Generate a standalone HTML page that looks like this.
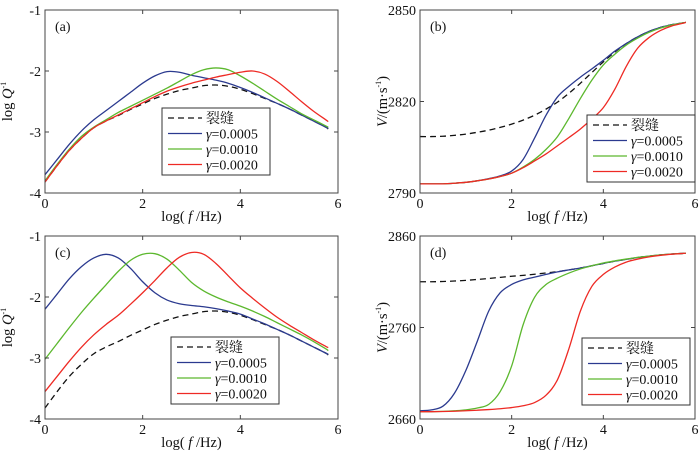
<!DOCTYPE html>
<html><head><meta charset="utf-8"><style>
body{margin:0;background:#fff}
svg text{font-family:"Liberation Serif","Noto Serif CJK SC",serif;fill:#111}
</style></head><body>
<svg id="c" width="700" height="452" viewBox="0 0 700 452"></svg>
<script>
const xs=[0,0.25,0.5,0.75,1,1.25,1.5,1.75,2,2.25,2.5,2.75,3,3.25,3.5,3.75,4,4.25,4.5,4.75,5,5.25,5.5,5.75,5.8];
const xTicks=[0,2,4,6];
const aCrack=[-3.82,-3.55,-3.3,-3.1,-2.93,-2.82,-2.73,-2.63,-2.54,-2.45,-2.38,-2.32,-2.28,-2.24,-2.23,-2.25,-2.3,-2.37,-2.45,-2.53,-2.62,-2.72,-2.82,-2.92,-2.95];
const aG1=[-3.7,-3.45,-3.2,-2.98,-2.8,-2.65,-2.5,-2.35,-2.2,-2.08,-2.01,-2.02,-2.07,-2.11,-2.15,-2.2,-2.27,-2.35,-2.44,-2.53,-2.62,-2.72,-2.82,-2.92,-2.94];
const aG2=[-3.8,-3.53,-3.28,-3.07,-2.92,-2.8,-2.68,-2.58,-2.48,-2.38,-2.28,-2.17,-2.06,-1.98,-1.95,-1.98,-2.08,-2.2,-2.33,-2.46,-2.58,-2.7,-2.8,-2.9,-2.92];
const aG3=[-3.82,-3.55,-3.3,-3.1,-2.93,-2.82,-2.72,-2.62,-2.52,-2.42,-2.33,-2.26,-2.2,-2.15,-2.1,-2.06,-2.02,-2.0,-2.05,-2.17,-2.33,-2.5,-2.66,-2.8,-2.83];
const bCrack=[2808.5,2808.5,2808.6,2808.9,2809.3,2809.9,2810.6,2811.5,2812.6,2813.9,2815.5,2817.5,2819.8,2822.7,2826,2829.5,2833,2836.2,2839,2841.2,2843,2844.3,2845.2,2845.8,2846];
const bG1=[2793,2793,2793,2793.2,2793.5,2794,2794.7,2795.6,2797.2,2801,2808,2815.5,2821.5,2825,2828,2830.7,2833.5,2836.5,2839,2841.2,2843,2844.3,2845.2,2845.8,2846];
const bG2=[2793,2793,2793,2793.2,2793.5,2794,2794.6,2795.4,2796.5,2798.5,2801,2804.3,2808.5,2814.5,2821,2827,2832,2835.5,2838.5,2840.8,2842.7,2844.1,2845.1,2845.8,2846];
const bG3=[2793,2793,2793,2793.2,2793.5,2794,2794.6,2795.4,2796.5,2798.3,2800.5,2802.8,2805.5,2808.2,2811,2814.3,2818,2824,2831.5,2837.5,2841,2843.3,2844.8,2845.7,2846];
const cCrack=[-3.82,-3.55,-3.3,-3.1,-2.93,-2.82,-2.73,-2.63,-2.54,-2.45,-2.38,-2.32,-2.28,-2.24,-2.23,-2.25,-2.3,-2.37,-2.45,-2.53,-2.62,-2.72,-2.82,-2.92,-2.95];
const cG1=[-2.2,-1.95,-1.7,-1.5,-1.36,-1.3,-1.36,-1.53,-1.75,-1.93,-2.05,-2.11,-2.14,-2.16,-2.19,-2.23,-2.28,-2.36,-2.44,-2.53,-2.62,-2.72,-2.82,-2.92,-2.94];
const cG2=[-3.02,-2.76,-2.5,-2.25,-2.02,-1.8,-1.58,-1.4,-1.3,-1.29,-1.38,-1.56,-1.76,-1.9,-2.0,-2.08,-2.15,-2.23,-2.32,-2.42,-2.52,-2.62,-2.73,-2.85,-2.88];
const cG3=[-3.55,-3.3,-3.05,-2.82,-2.62,-2.45,-2.3,-2.12,-1.93,-1.73,-1.52,-1.35,-1.27,-1.3,-1.45,-1.65,-1.85,-2.02,-2.18,-2.33,-2.46,-2.58,-2.7,-2.81,-2.83];
const dCrack=[2810,2810,2810.3,2810.8,2811.5,2812.5,2813.6,2814.8,2816,2817,2818.2,2819.6,2821,2823,2825,2827.5,2830,2832.5,2834.5,2836.5,2838,2839.3,2840.3,2841,2841.2];
const dG1=[2669,2670,2674,2688,2713,2745,2778,2798,2807,2812,2815,2818,2820.8,2823,2825,2827.5,2830,2832.5,2834.5,2836.5,2838,2839.3,2840.3,2841,2841.2];
const dG2=[2668,2668,2668.3,2669,2670,2672,2676,2690,2718,2763,2793,2807,2814,2819.5,2824,2827.5,2830.5,2832.8,2834.8,2836.6,2838,2839.3,2840.3,2841,2841.2];
const dG3=[2668,2668,2668.2,2668.5,2669,2669.6,2670.3,2671.2,2672.5,2674.5,2678,2686,2703,2737,2778,2805,2818,2826,2831.5,2834.8,2837.2,2838.9,2840.1,2841,2841.2];
const qTicks=[-1,-2,-3,-4];
const bTicks=[2790,2820,2850];
const dTicks=[2660,2760,2860];
const legendLabels=["裂缝","=0.0005","=0.0010","=0.0020"];
const colors=["#111","#2b3a8f","#5cb82e","#ee2a24"];

const svg=document.getElementById('c');
const NS='http://www.w3.org/2000/svg';
function mk(t,a,p){const e=document.createElementNS(NS,t);for(const k in a)e.setAttribute(k,a[k]);(p||svg).appendChild(e);return e;}
function path(pts){let d='M'+pts[0][0]+','+pts[0][1];for(let i=0;i<pts.length-1;i++){const p0=pts[Math.max(0,i-1)],p1=pts[i],p2=pts[i+1],p3=pts[Math.min(pts.length-1,i+2)];d+=' C'+(p1[0]+(p2[0]-p0[0])/6)+','+(p1[1]+(p2[1]-p0[1])/6)+' '+(p2[0]-(p3[0]-p1[0])/6)+','+(p2[1]-(p3[1]-p1[1])/6)+' '+p2[0]+','+p2[1];}return d;}
function panel(name,L,T,R,B,ymin,ymax,yt,series,lbl,isQ,leg){
  const g=mk('g',{});
  
  
  const sx=v=>L+(v-0)/6*(R-L), sy=v=>B-(v-ymin)/(ymax-ymin)*(B-T);
  series.forEach((s,i)=>{
    const p=mk('path',{d:path(xs.map((x,j)=>[sx(x),sy(s[j])])),fill:'none',stroke:colors[i],'stroke-width':1.3,'stroke-dasharray':i==0?'6,4':''},g);
    
    
  });
  mk('rect',{x:L,y:T,width:R-L,height:B-T,fill:'none',stroke:'#444','stroke-width':1},g);
  xTicks.forEach(v=>{const x=sx(v);mk('line',{x1:x,x2:x,y1:B,y2:B-4,stroke:'#444'},g);mk('line',{x1:x,x2:x,y1:T,y2:T+4,stroke:'#444'},g);
    const t=mk('text',{x:x,y:B+15,'text-anchor':'middle','font-size':14},g);t.textContent=v;
    });
  yt.forEach(v=>{const y=sy(v);mk('line',{x1:L,x2:L+4,y1:y,y2:y,stroke:'#444'},g);mk('line',{x1:R,x2:R-4,y1:y,y2:y,stroke:'#444'},g);
    const t=mk('text',{x:L-4,y:y+5,'text-anchor':'end','font-size':14},g);t.textContent=v;
    });
  const xt=mk('text',{x:(L+R)/2,y:B+28,'text-anchor':'middle','font-size':14.5},g);
  xt.innerHTML='log( <tspan font-style="italic">f</tspan> /Hz)';
  
  const yx=L-33, yy=(T+B)/2;
  const ytl=mk('text',{x:yx,y:yy,'text-anchor':'middle','font-size':14.5,transform:`rotate(-90 ${yx} ${yy})`},g);
  ytl.innerHTML=isQ?'log <tspan font-style="italic">Q</tspan><tspan font-size="8" dy="-6">-1</tspan>':'<tspan font-style="italic">V</tspan>/(m·s<tspan font-size="8" dy="-6">-1</tspan><tspan dy="6">)</tspan>';
  
  const pl=mk('text',{x:L+10,y:T+21,'font-size':14},g);pl.textContent=lbl;
  
  const lg=mk('g',{},g);
  
  mk('rect',{x:leg[0],y:leg[1],width:leg[2],height:leg[3],fill:'#fff',stroke:'#333'},lg);
  legendLabels.forEach((s,i)=>{const y=leg[1]+10+i*15.5;
    mk('line',{x1:leg[0]+6,x2:leg[0]+40,y1:y,y2:y,stroke:colors[i],'stroke-width':1.3,'stroke-dasharray':i==0?'6,4':''},lg);
    const t=mk('text',{x:leg[0]+44,y:y+5,'font-size':14},lg);
    t.innerHTML=i==0?s:'<tspan font-style="italic">γ</tspan>'+s;
    });
}
panel('panel-a',45,10,338,193,-4,-1,qTicks,[aCrack,aG1,aG2,aG3],'(a)',true,[162,108,108,67]);
panel('panel-b',420,10,695,193,2790,2850,bTicks,[bCrack,bG1,bG2,bG3],'(b)',false,[587,115,108,67]);
panel('panel-c',45,236,338,419,-4,-1,qTicks,[cCrack,cG1,cG2,cG3],'(c)',true,[171,337,108,67]);
panel('panel-d',420,236,695,419,2660,2860,dTicks,[dCrack,dG1,dG2,dG3],'(d)',false,[582,338,108,67]);
</script>
</body></html>
